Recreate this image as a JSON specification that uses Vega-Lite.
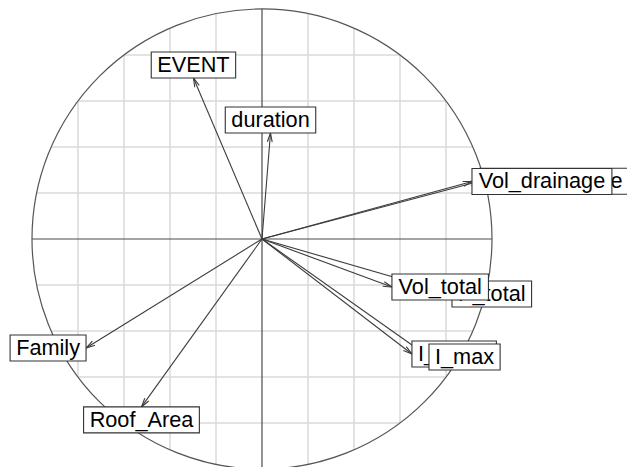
{
  "$schema": "https://vega.github.io/schema/vega-lite/v6.json",
  "width": 627,
  "height": 467,
  "autosize": "none",
  "padding": 0,
  "background": "white",
  "config": {"view": {"stroke": null}},
  "datasets": {
    "vars": [
      {"label": "EVENT", "x": -0.298, "y": 0.700},
      {"label": "duration", "x": 0.037, "y": 0.461},
      {"label": "Family", "x": -0.765, "y": -0.474},
      {"label": "Roof_Area", "x": -0.524, "y": -0.730},
      {"label": "P_total", "x": 0.826, "y": -0.239},
      {"label": "Vol_total", "x": 0.565, "y": -0.209},
      {"label": "I_mean", "x": 0.652, "y": -0.500},
      {"label": "I_max", "x": 0.726, "y": -0.513},
      {"label": "Vol_discharge", "x": 0.946, "y": 0.251},
      {"label": "Vol_drainage", "x": 0.913, "y": 0.250}
    ],
    "grid": [
      {"v": -0.8}, {"v": -0.6}, {"v": -0.4}, {"v": -0.2},
      {"v": 0.2}, {"v": 0.4}, {"v": 0.6}, {"v": 0.8}
    ]
  },
  "layer": [
    {
      "data": {"name": "grid"},
      "transform": [
        {"calculate": "sqrt(1 - datum.v * datum.v)", "as": "c"},
        {"calculate": "-datum.c", "as": "nc"}
      ],
      "layer": [
        {
          "mark": {"type": "rule", "color": "#dadada", "strokeWidth": 1.5},
          "encoding": {
            "x": {"field": "v", "type": "quantitative", "scale": {"domain": [-1.1391, 1.5870], "nice": false, "zero": false}, "axis": null},
            "y": {"field": "nc", "type": "quantitative", "scale": {"domain": [-0.9913, 1.0391], "nice": false, "zero": false}, "axis": null},
            "y2": {"field": "c"}
          }
        },
        {
          "mark": {"type": "rule", "color": "#dadada", "strokeWidth": 1.5},
          "encoding": {
            "y": {"field": "v", "type": "quantitative", "scale": {"domain": [-0.9913, 1.0391], "nice": false, "zero": false}, "axis": null},
            "x": {"field": "nc", "type": "quantitative", "scale": {"domain": [-1.1391, 1.5870], "nice": false, "zero": false}, "axis": null},
            "x2": {"field": "c"}
          }
        }
      ]
    },
    {
      "data": {"values": [{}]},
      "layer": [
        {
          "mark": {"type": "rule", "color": "#4a4a4a", "strokeWidth": 1.2},
          "encoding": {
            "x": {"datum": -1, "type": "quantitative", "scale": {"domain": [-1.1391, 1.5870], "nice": false, "zero": false}, "axis": null},
            "x2": {"datum": 1},
            "y": {"datum": 0, "type": "quantitative", "scale": {"domain": [-0.9913, 1.0391], "nice": false, "zero": false}, "axis": null}
          }
        },
        {
          "mark": {"type": "rule", "color": "#4a4a4a", "strokeWidth": 1.2},
          "encoding": {
            "y": {"datum": -1, "type": "quantitative", "scale": {"domain": [-0.9913, 1.0391], "nice": false, "zero": false}, "axis": null},
            "y2": {"datum": 1},
            "x": {"datum": 0, "type": "quantitative", "scale": {"domain": [-1.1391, 1.5870], "nice": false, "zero": false}, "axis": null}
          }
        },
        {
          "mark": {"type": "point", "shape": "circle", "filled": false, "stroke": "#555555", "strokeWidth": 1.2, "opacity": 1},
          "encoding": {
            "x": {"datum": 0, "type": "quantitative", "scale": {"domain": [-1.1391, 1.5870], "nice": false, "zero": false}, "axis": null},
            "y": {"datum": 0, "type": "quantitative", "scale": {"domain": [-0.9913, 1.0391], "nice": false, "zero": false}, "axis": null},
            "size": {"value": 211600}
          }
        }
      ]
    },
    {
      "data": {"name": "vars"},
      "transform": [
        {"calculate": "0.556*length(datum.label) - 0.334*length(replace(datum.label, regexp('[^ijl]','g'), '')) - 0.278*length(replace(datum.label, regexp('[^ftI]','g'), '')) - 0.223*length(replace(datum.label, regexp('[^r]','g'), '')) - 0.056*length(replace(datum.label, regexp('[^cksvxyz]','g'), '')) + 0.277*length(replace(datum.label, regexp('[^mM]','g'), '')) + 0.111*length(replace(datum.label, regexp('[^ABEKPSVXY]','g'), '')) + 0.166*length(replace(datum.label, regexp('[^CDHNRUw]','g'), '')) + 0.222*length(replace(datum.label, regexp('[^GOQ]','g'), '')) + 0.055*length(replace(datum.label, regexp('[^FTZ]','g'), ''))", "as": "wem"},
        {"calculate": "(datum.wem + 0.556) * 21.7 / 230", "as": "xh"},
        {"calculate": "13 / 230", "as": "yh"},
        {"calculate": "datum.x > datum.y && datum.x > -datum.y ? 'right' : (datum.x > datum.y ? 'bottom' : (datum.x <= -datum.y ? 'left' : 'top'))", "as": "side"},
        {"calculate": "datum.side == 'right' ? datum.x : (datum.side == 'left' ? datum.x - datum.xh : datum.x - datum.xh / 2)", "as": "bx1"},
        {"calculate": "datum.bx1 + datum.xh", "as": "bx2"},
        {"calculate": "datum.side == 'bottom' ? datum.y - 2 * datum.yh : (datum.side == 'top' ? datum.y : datum.y - datum.yh)", "as": "by1"},
        {"calculate": "datum.by1 + 2 * datum.yh", "as": "by2"},
        {"calculate": "datum.bx1 + datum.xh / 2", "as": "tx"},
        {"calculate": "datum.by1 + datum.yh", "as": "ty"},
        {"calculate": "atan2(datum.x, datum.y) * 180 / PI", "as": "ang"},
        {"calculate": "indexof(['P_total', 'I_mean', 'Vol_discharge'], datum.label) >= 0 ? 0 : 1", "as": "front"}
      ],
      "layer": [
        {
          "mark": {"type": "rule", "color": "#3c3c3c", "strokeWidth": 1.1},
          "encoding": {
            "x": {"field": "x", "type": "quantitative", "scale": {"domain": [-1.1391, 1.5870], "nice": false, "zero": false}, "axis": null},
            "y": {"field": "y", "type": "quantitative", "scale": {"domain": [-0.9913, 1.0391], "nice": false, "zero": false}, "axis": null},
            "x2": {"datum": 0},
            "y2": {"datum": 0}
          }
        },
        {
          "mark": {"type": "point", "shape": "M -0.268 1 L 0 0 L 0.268 1", "filled": false, "stroke": "#3c3c3c", "strokeWidth": 1.1, "opacity": 1, "size": 324},
          "encoding": {
            "x": {"field": "x", "type": "quantitative", "scale": {"domain": [-1.1391, 1.5870], "nice": false, "zero": false}, "axis": null},
            "y": {"field": "y", "type": "quantitative", "scale": {"domain": [-0.9913, 1.0391], "nice": false, "zero": false}, "axis": null},
            "angle": {"field": "ang", "type": "quantitative", "scale": null}
          }
        },
        {
          "transform": [{"filter": "datum.front == 0"}],
          "layer": [
            {
              "mark": {"type": "rect", "fill": "white", "stroke": "#333333", "strokeWidth": 1.1},
              "encoding": {
                "x": {"field": "bx1", "type": "quantitative", "scale": {"domain": [-1.1391, 1.5870], "nice": false, "zero": false}, "axis": null},
                "x2": {"field": "bx2"},
                "y": {"field": "by1", "type": "quantitative", "scale": {"domain": [-0.9913, 1.0391], "nice": false, "zero": false}, "axis": null},
                "y2": {"field": "by2"}
              }
            },
            {
              "mark": {"type": "text", "font": "Liberation Sans", "fontSize": 21.7, "color": "#000000", "align": "center", "baseline": "middle"},
              "encoding": {
                "x": {"field": "tx", "type": "quantitative", "scale": {"domain": [-1.1391, 1.5870], "nice": false, "zero": false}, "axis": null},
                "y": {"field": "ty", "type": "quantitative", "scale": {"domain": [-0.9913, 1.0391], "nice": false, "zero": false}, "axis": null},
                "text": {"field": "label"}
              }
            }
          ]
        },
        {
          "transform": [{"filter": "datum.front == 1"}],
          "layer": [
            {
              "mark": {"type": "rect", "fill": "white", "stroke": "#333333", "strokeWidth": 1.1},
              "encoding": {
                "x": {"field": "bx1", "type": "quantitative", "scale": {"domain": [-1.1391, 1.5870], "nice": false, "zero": false}, "axis": null},
                "x2": {"field": "bx2"},
                "y": {"field": "by1", "type": "quantitative", "scale": {"domain": [-0.9913, 1.0391], "nice": false, "zero": false}, "axis": null},
                "y2": {"field": "by2"}
              }
            },
            {
              "mark": {"type": "text", "font": "Liberation Sans", "fontSize": 21.7, "color": "#000000", "align": "center", "baseline": "middle"},
              "encoding": {
                "x": {"field": "tx", "type": "quantitative", "scale": {"domain": [-1.1391, 1.5870], "nice": false, "zero": false}, "axis": null},
                "y": {"field": "ty", "type": "quantitative", "scale": {"domain": [-0.9913, 1.0391], "nice": false, "zero": false}, "axis": null},
                "text": {"field": "label"}
              }
            }
          ]
        }
      ]
    }
  ]
}
